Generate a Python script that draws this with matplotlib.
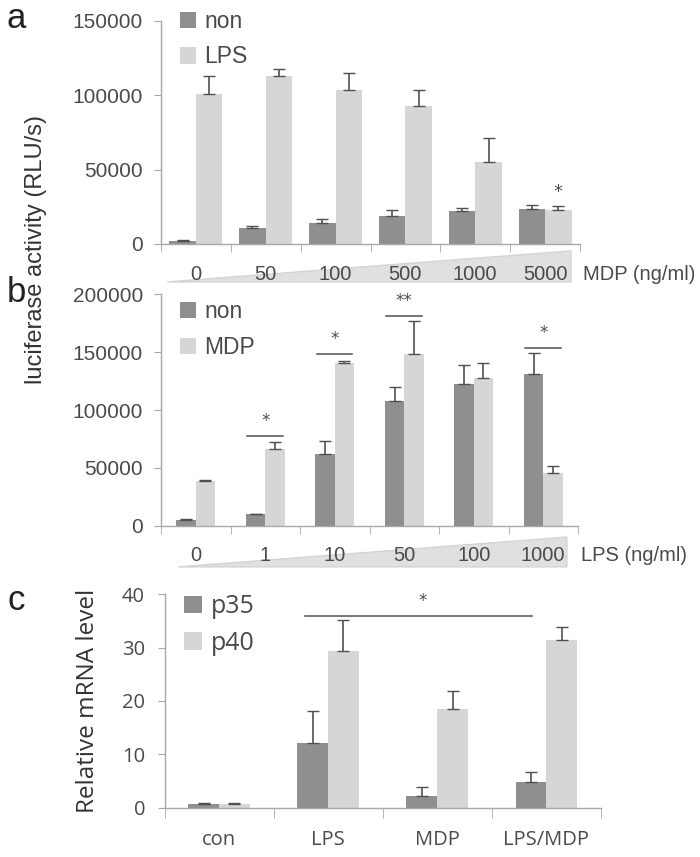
import matplotlib
matplotlib.use("Agg")
import matplotlib.pyplot as plt
import matplotlib.transforms as mtransforms
from matplotlib.patches import Polygon, Patch
import numpy as np

# panel a: MDP dose series
mdp_doses = ["0", "50", "100", "500", "1000", "5000"]
a_non = [2000, 11000, 14000, 18500, 22000, 23500]
a_non_err = [500, 800, 2500, 4500, 2000, 2700]
a_lps = [101000, 113000, 103500, 93000, 55000, 23000]
a_lps_err = [12000, 4500, 11500, 10500, 16000, 2600]

# panel b: LPS dose series
lps_doses = ["0", "1", "10", "50", "100", "1000"]
b_non = [5000, 10000, 62000, 108000, 122500, 131500]
b_non_err = [700, 300, 11000, 11500, 16000, 18000]
b_mdp = [38500, 66500, 140500, 148500, 127500, 45500]
b_mdp_err = [1000, 6000, 2000, 28000, 13000, 6000]
b_sig_groups = [1, 2, 3, 5]
b_sig_y = [77700, 148400, 181000, 153600]
b_sig_text = ["*", "*", "**", "*"]

# panel c: qPCR
c_groups = ["con", "LPS", "MDP", "LPS/MDP"]
c_p35 = [0.7, 12.2, 2.2, 4.9]
c_p35_err = [0.2, 5.9, 1.7, 1.8]
c_p40 = [0.7, 29.3, 18.5, 31.4]
c_p40_err = [0.2, 5.8, 3.4, 2.4]

DARK = "#8f8f8f"
LIGHT = "#d6d6d6"
SPINE = "#a8a8a8"
TXT = "#4a4a4a"
ERR = "#505050"

fig = plt.figure(figsize=(7, 8.57), dpi=100)


def style_axes(ax, n, font, size, ticklen, ypad):
    for s in ["top", "right"]:
        ax.spines[s].set_visible(False)
    for s in ["left", "bottom"]:
        ax.spines[s].set_color(SPINE)
        ax.spines[s].set_linewidth(1.0)
    ax.set_xlim(-0.5, n - 0.5)
    ax.set_xticks(np.arange(-0.5, n, 1.0), minor=True)
    ax.tick_params(axis="x", which="minor", length=ticklen, color=SPINE, direction="out")
    ax.tick_params(axis="x", which="major", length=0)
    ax.tick_params(axis="y", length=5, color=SPINE, pad=ypad, labelsize=size, labelcolor=TXT)
    for lab in ax.get_yticklabels():
        lab.set_fontfamily(font)


def bars(ax, v1, e1, v2, e2, w, off):
    x = np.arange(len(v1))
    ax.bar(x - off, v1, w, color=DARK, zorder=2)
    ax.bar(x + off, v2, w, color=LIGHT, zorder=2)
    kw = dict(fmt="none", ecolor=ERR, elinewidth=1.2, capsize=4, capthick=1.0, zorder=3)
    ax.errorbar(x - off, v1, yerr=[np.zeros(len(e1)), e1], **kw)
    ax.errorbar(x + off, v2, yerr=[np.zeros(len(e2)), e2], **kw)


def wedge(ax, x0, x1, ybot, ytop, labels, ylab, unit):
    tr = mtransforms.blended_transform_factory(ax.transData, ax.transAxes)
    poly = Polygon([[x0, ybot], [x1, ytop], [x1, ybot]], closed=True,
                   facecolor="#e0e0e0", edgecolor="#d4d4d4", lw=1.0,
                   transform=tr, clip_on=False, zorder=0)
    ax.add_patch(poly)
    for i, lab in enumerate(labels):
        ax.text(i, ylab, lab, transform=tr, ha="center", va="center",
                fontsize=14.5, color=TXT, family="Liberation Sans", zorder=5)
    ax.text(1.008, ylab, unit, transform=ax.transAxes, ha="left", va="center",
            fontsize=14.5, color=TXT, family="Liberation Sans")


def legend(ax, labels, anchor, font, size, spacing):
    h = [Patch(facecolor=DARK), Patch(facecolor=LIGHT)]
    ax.legend(h, labels, loc="upper left", bbox_to_anchor=anchor, frameon=False,
              borderaxespad=0, borderpad=0, handlelength=0.72, handleheight=0.72,
              handletextpad=0.35, labelspacing=spacing,
              prop=dict(family=font, size=size), labelcolor=TXT)


# ---- panel a
ax_a = fig.add_axes([161 / 700, 1 - 244 / 857, 419 / 700, 223 / 857])
bars(ax_a, a_non, a_non_err, a_lps, a_lps_err, 0.38, 0.19)
ax_a.set_ylim(0, 150000)
ax_a.set_yticks([0, 50000, 100000, 150000])
style_axes(ax_a, 6, "Liberation Sans", 15, 6, 8)
ax_a.set_xticks([])
wedge(ax_a, -0.41, 5.37, -0.17, -0.031, mdp_doses, -0.135, "MDP (ng/ml)")
legend(ax_a, ["non", "LPS"], (0.045, 1.05), "Liberation Sans", 16.5, 0.55)
ax_a.text(5.19, 35000, "*", ha="center", va="center", fontsize=13, color=TXT)

# ---- panel b
ax_b = fig.add_axes([161 / 700, 1 - 525.7 / 857, 417 / 700, 231.4 / 857])
bars(ax_b, b_non, b_non_err, b_mdp, b_mdp_err, 0.28, 0.14)
ax_b.set_ylim(0, 200000)
ax_b.set_yticks([0, 50000, 100000, 150000, 200000])
style_axes(ax_b, 6, "Liberation Sans", 15, 6, 8)
ax_b.set_xticks([])
wedge(ax_b, -0.25, 5.34, -0.178, -0.049, lps_doses, -0.127, "LPS (ng/ml)")
legend(ax_b, ["non", "MDP"], (0.045, 0.975), "Liberation Sans", 16.5, 0.55)
for g, y, t in zip(b_sig_groups, b_sig_y, b_sig_text):
    ax_b.plot([g - 0.26, g + 0.25], [y, y], color=ERR, lw=1.1)
    ax_b.text(g, y + 5000, t, ha="center", va="bottom", fontsize=12, color=TXT)

# ---- panel c
ax_c = fig.add_axes([164.5 / 700, 1 - 807.7 / 857, 436.5 / 700, 213.4 / 857])
bars(ax_c, c_p35, c_p35_err, c_p40, c_p40_err, 0.285, 0.14)
ax_c.set_ylim(0, 40)
ax_c.set_yticks([0, 10, 20, 30, 40])
style_axes(ax_c, 4, "Open Sans", 14.5, 7, 9)
ax_c.set_xticks(np.arange(4))
ax_c.set_xticklabels(c_groups, family="Open Sans", fontsize=14.5, color=TXT)
ax_c.tick_params(axis="x", which="major", pad=16)
legend(ax_c, ["p35", "p40"], (0.045, 1.0), "Open Sans", 18, 0.45)
ax_c.plot([0.79, 2.87], [35.9, 35.9], color=ERR, lw=1.1)
ax_c.text(1.87, 37.0, "*", ha="center", va="bottom", fontsize=12, color=TXT)
ax_c.set_ylabel("Relative mRNA level", family="Open Sans", fontsize=17.5, color="#333333", labelpad=16)

# shared y label and panel letters
fig.text(0.052, 1 - 250 / 857, "luciferase activity (RLU/s)", rotation=90, ha="center", va="center",
         fontsize=17, color="#333333", family="Liberation Sans")
for letter, y in [("a", 18), ("b", 292), ("c", 601)]:
    fig.text(0.023, 1 - y / 857, letter, ha="center", va="center", fontsize=25,
             color="#222222", family="Liberation Sans")

fig.savefig("out.png", dpi=100)
